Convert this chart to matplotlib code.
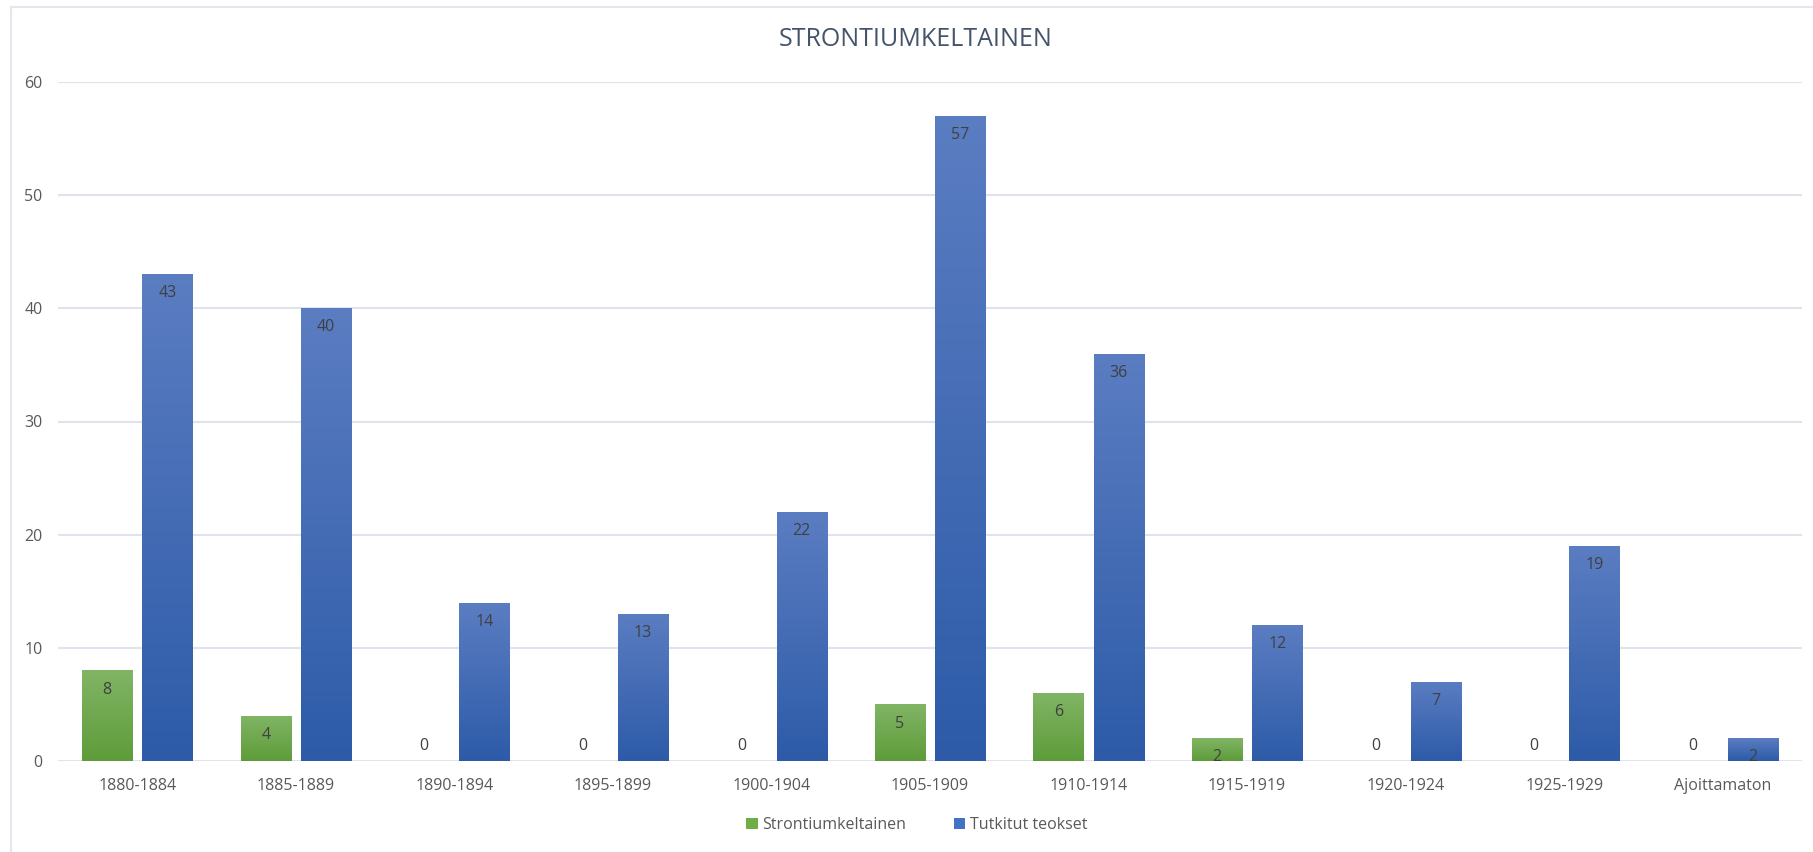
import numpy as np
import matplotlib
matplotlib.use("Agg")
import matplotlib.pyplot as plt
from matplotlib.lines import Line2D
from matplotlib.patches import Patch
from matplotlib.colors import LinearSegmentedColormap

plt.rcParams['font.family'] = ['Open Sans', 'DejaVu Sans']

# data
categories = ['1880-1884', '1885-1889', '1890-1894', '1895-1899', '1900-1904',
              '1905-1909', '1910-1914', '1915-1919', '1920-1924', '1925-1929',
              'Ajoittamaton']
strontium = [8, 4, 0, 0, 0, 5, 6, 2, 0, 0, 0]
tutkitut = [43, 40, 14, 13, 22, 57, 36, 12, 7, 19, 2]
yticks = [0, 10, 20, 30, 40, 50, 60]

W, H = 1813, 852
fig = plt.figure(figsize=(W / 100, H / 100), dpi=100)
ax = fig.add_axes([58 / W, 1 - 761 / H, (1802 - 58) / W, (761 - 82) / H])

green_cmap = LinearSegmentedColormap.from_list('g', ['#5e9c3a', '#81b565'])
blue_cmap = LinearSegmentedColormap.from_list('b', ['#2d5ba8', '#5b7dc2'])
grad = np.linspace(0, 1, 256).reshape(-1, 1)

x = np.arange(len(categories))
bw = 0.316
off = 0.19
text_col = '#404040'


def gradient_bars(xs, vals, cmap):
    bars = ax.bar(xs, vals, bw, color='none', edgecolor='none', zorder=3)
    for b, v in zip(bars, vals):
        if v <= 0:
            continue
        x0 = b.get_x()
        im = ax.imshow(grad, cmap=cmap, aspect='auto', origin='lower',
                       extent=[x0, x0 + bw, 0, v], zorder=3)
        im.set_clip_path(b)
    return bars


gradient_bars(x - off, strontium, green_cmap)
gradient_bars(x + off, tutkitut, blue_cmap)

for xi, v in zip(x - off, strontium):
    if v > 0:
        ax.annotate(str(v), (xi, v), xytext=(0, -8), textcoords='offset points',
                    ha='center', va='top', fontsize=11.5, color=text_col, zorder=4)
    else:
        ax.annotate(str(v), (xi, 0), xytext=(0, 5), textcoords='offset points',
                    ha='center', va='bottom', fontsize=11.5, color=text_col, zorder=4)
for xi, v in zip(x + off, tutkitut):
    ax.annotate(str(v), (xi, v), xytext=(0, -8), textcoords='offset points',
                ha='center', va='top', fontsize=11.5, color=text_col, zorder=4)

ax.set_xlim(-0.5, len(categories) - 0.5)
ax.set_ylim(0, 60)
ax.set_yticks(yticks)
ax.set_xticks(x)
ax.set_xticklabels(categories)
ax.tick_params(axis='both', length=0, labelsize=11.5, labelcolor='#595959')
ax.tick_params(axis='x', pad=12)
ax.tick_params(axis='y', pad=11)
ax.grid(axis='y', color='#dfe4ec', linewidth=1.5, zorder=0)
ax.set_axisbelow(True)
for s in ax.spines.values():
    s.set_visible(False)

fig.text(916 / W, 1 - 40 / H, 'STRONTIUMKELTAINEN', ha='center', va='center',
         fontsize=18, color='#44546a')

handles = [Patch(facecolor='#70ad47', edgecolor='none'),
           Patch(facecolor='#4472c4', edgecolor='none')]
fig.legend(handles, ['Strontiumkeltainen', 'Tutkitut teokset'], loc='center',
           bbox_to_anchor=(917 / W, 1 - 825 / H), ncol=2, frameon=False,
           fontsize=11.5, labelcolor='#595959', handlelength=0.7, handleheight=0.7,
           handletextpad=0.3, columnspacing=3.0)

# outer chart border
fig.add_artist(Line2D([11 / W, 1], [1 - 7 / H, 1 - 7 / H], color='#e3e7ee',
                      linewidth=1.5, transform=fig.transFigure))
fig.add_artist(Line2D([11 / W, 11 / W], [0, 1 - 7 / H], color='#e3e7ee',
                      linewidth=1.5, transform=fig.transFigure))

fig.savefig('out.png', dpi=100)
